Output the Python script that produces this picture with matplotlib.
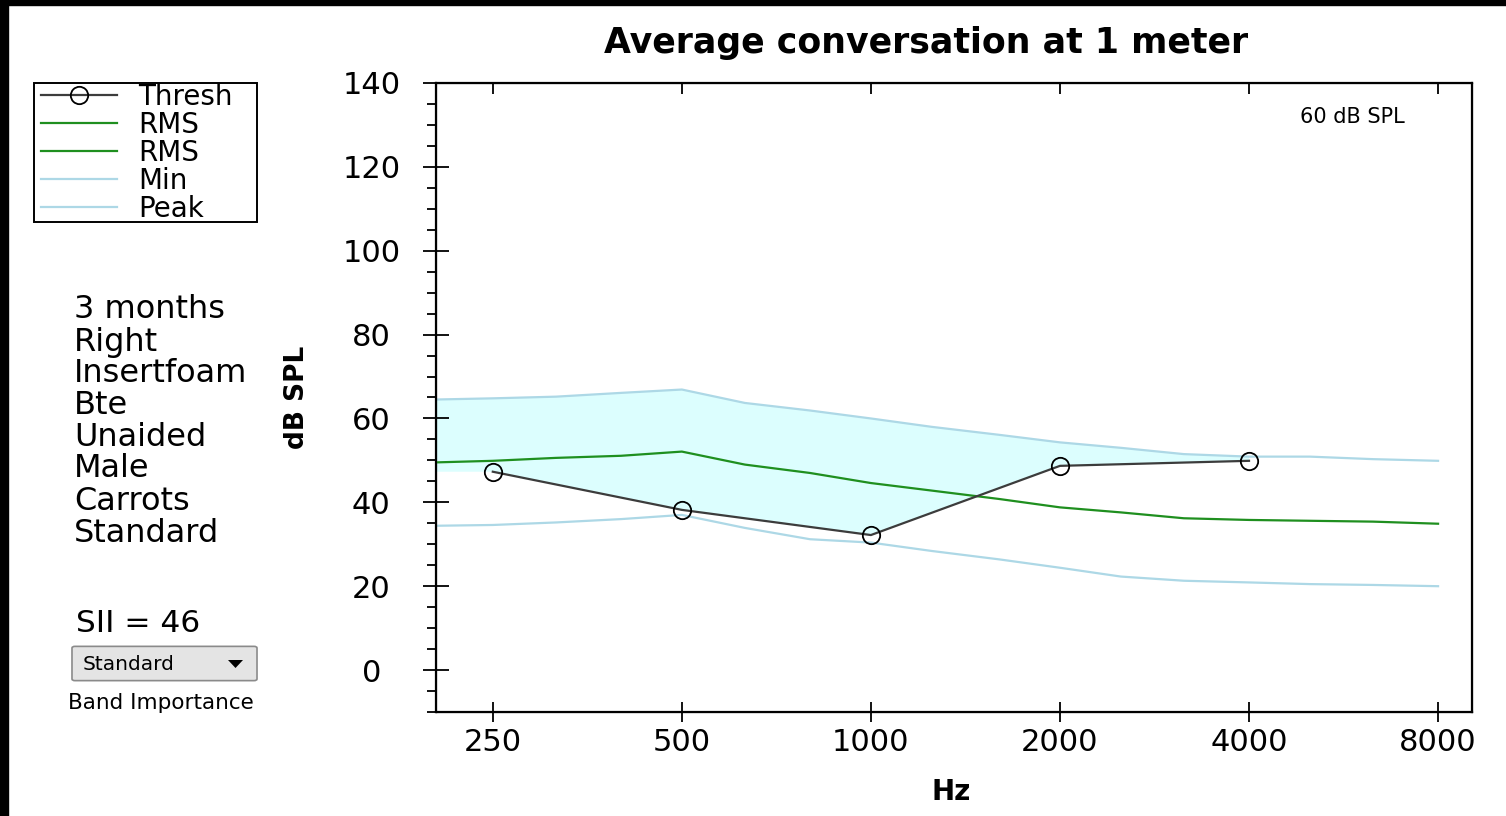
import numpy as np
import matplotlib
matplotlib.use("Agg")
import matplotlib.pyplot as plt
from matplotlib.patches import Rectangle, FancyBboxPatch, Polygon
from matplotlib.ticker import FixedLocator, NullFormatter, NullLocator

# third-octave bands of the speech spectrum (Hz)
band_freqs = [200, 250, 315, 400, 500, 630, 800, 1000, 1250, 1600,
              2000, 2500, 3150, 4000, 5000, 6300, 8000]
peak_db = [64.5, 64.8, 65.2, 66.1, 66.9, 63.7, 61.9, 60.0, 58.0, 56.1,
           54.3, 53.0, 51.5, 50.9, 50.9, 50.3, 49.9]
rms_db = [49.5, 49.9, 50.6, 51.1, 52.1, 49.0, 47.0, 44.6, 42.8, 40.8,
          38.8, 37.6, 36.2, 35.8, 35.6, 35.4, 34.9]
min_db = [34.4, 34.6, 35.2, 36.0, 37.0, 33.9, 31.2, 30.4, 28.4, 26.4,
          24.4, 22.3, 21.3, 20.9, 20.5, 20.3, 20.0]

# audiometric thresholds
thresh_freqs = [250, 500, 1000, 2000, 4000]
thresh_db = [47.3, 38.2, 32.2, 48.7, 49.9]

x_ticks = [250, 500, 1000, 2000, 4000, 8000]
y_ticks = [0, 20, 40, 60, 80, 100, 120, 140]

info_lines = ["3 months", "Right", "Insertfoam", "Bte", "Unaided",
              "Male", "Carrots", "Standard"]
sii_value = 46

W, H = 1506, 816


def fx(px):
    return px / W


def fy(py):
    return 1 - py / H


fig = plt.figure(figsize=(W / 100, H / 100), dpi=100)
fig.patch.set_facecolor("white")

ax = fig.add_axes([fx(436), fy(712), fx(1472) - fx(436), fy(83) - fy(712)])
ax.set_xscale("log")
ax.set_xlim(203, 9060)
ax.set_ylim(-10, 140)

# audible part of the speech area: from threshold up to the peak curve
n_fill = band_freqs.index(thresh_freqs[-1]) + 1
poly_x = list(band_freqs[:n_fill]) + thresh_freqs[::-1] + [band_freqs[0]]
poly_y = list(peak_db[:n_fill]) + thresh_db[::-1] + [thresh_db[0]]
ax.fill(poly_x, poly_y, color="#dcfefe", lw=0, zorder=1)

ln_min, = ax.plot(band_freqs, min_db, color="#add8e6", lw=1.6, zorder=2)
ln_peak, = ax.plot(band_freqs, peak_db, color="#add8e6", lw=1.6, zorder=2)
ln_rms, = ax.plot(band_freqs, rms_db, color="#1f8f1f", lw=1.6, zorder=3)
ln_thr, = ax.plot(thresh_freqs, thresh_db, color="#3c3c3c", lw=1.6,
                  marker="o", ms=12.5, mfc="none", mec="black", mew=1.3,
                  zorder=4)

for s in ax.spines.values():
    s.set_linewidth(1.6)

ax.xaxis.set_major_locator(FixedLocator(x_ticks))
ax.xaxis.set_minor_locator(NullLocator())
ax.set_xticklabels([str(v) for v in x_ticks])
ax.tick_params(axis="x", which="major", direction="inout", length=15,
               width=1.3, pad=4, labelsize=22, top=False)

ax.yaxis.set_major_locator(FixedLocator(y_ticks))
ax.yaxis.set_minor_locator(FixedLocator(np.arange(-10, 141, 5)))
ax.yaxis.set_minor_formatter(NullFormatter())
ax.tick_params(axis="y", which="major", direction="inout", length=19,
               width=1.3, pad=37, labelsize=22, right=False)
ax.tick_params(axis="y", which="minor", direction="out", length=6.5,
               width=1.3, right=False)
for lbl in ax.get_yticklabels():
    lbl.set_horizontalalignment("center")

# inward ticks along the top edge
top = ax.twiny()
top.set_xscale("log")
top.set_xlim(ax.get_xlim())
top.xaxis.set_major_locator(FixedLocator(x_ticks))
top.xaxis.set_minor_locator(NullLocator())
top.tick_params(axis="x", which="major", direction="in", length=8,
                width=1.3, labelbottom=False, labeltop=False, bottom=False)

ax.text(0.885, 0.946, "60 dB SPL", transform=ax.transAxes,
        ha="center", va="center", fontsize=15)

fig.text(fx(926), fy(43), "Average conversation at 1 meter",
         ha="center", va="center", fontsize=25, fontweight="bold")
fig.text(fx(951), fy(792), "Hz", ha="center", va="center",
         fontsize=20, fontweight="bold")
fig.text(fx(297), fy(397), "dB SPL", ha="center", va="center",
         rotation=90, fontsize=19, fontweight="bold")

# legend entries without their own frame; the box is drawn separately
leg = fig.legend([ln_thr, ln_rms, ln_rms, ln_min, ln_peak],
                 ["Thresh", "RMS", "RMS", "Min", "Peak"],
                 loc="upper left", bbox_to_anchor=(fx(41), fy(83)),
                 bbox_transform=fig.transFigure, fontsize=20,
                 handlelength=2.75, handletextpad=0.75, labelspacing=0.0,
                 borderpad=0.0, borderaxespad=0, frameon=False)
fig.patches.append(Rectangle((fx(34), fy(222)), fx(257) - fx(34),
                             fy(83) - fy(222), transform=fig.transFigure,
                             facecolor="none", edgecolor="black", lw=1.4))

line_y = [310, 342, 374, 406, 438, 469, 501, 533]
for txt, py in zip(info_lines, line_y):
    fig.text(fx(74), fy(py), txt, ha="left", va="center", fontsize=23)

fig.text(fx(76), fy(623), f"SII = {sii_value}", ha="left", va="center",
         fontsize=22.5)

# band-importance selector
fig.patches.append(FancyBboxPatch((fx(75), fy(679)), fx(254) - fx(75),
                                  fy(648) - fy(679),
                                  boxstyle="round,pad=0.002",
                                  transform=fig.transFigure,
                                  facecolor="#e4e4e4", edgecolor="#8a8a8a",
                                  lw=1.2))
fig.text(fx(83), fy(664), "Standard", ha="left", va="center", fontsize=14.5)
fig.patches.append(Polygon([(fx(228), fy(660)), (fx(243), fy(660)),
                            (fx(235.5), fy(668))], closed=True,
                           transform=fig.transFigure, facecolor="black",
                           edgecolor="none"))
fig.text(fx(161), fy(703), "Band Importance", ha="center", va="center",
         fontsize=15.5)

# dark frame strips on the top and left edges
fig.patches.append(Rectangle((0, fy(5)), 1, 1 - fy(5),
                             transform=fig.transFigure, color="black"))
fig.patches.append(Rectangle((0, 0), fx(8), 1,
                             transform=fig.transFigure, color="black"))

fig.savefig("out.png", dpi=100)
